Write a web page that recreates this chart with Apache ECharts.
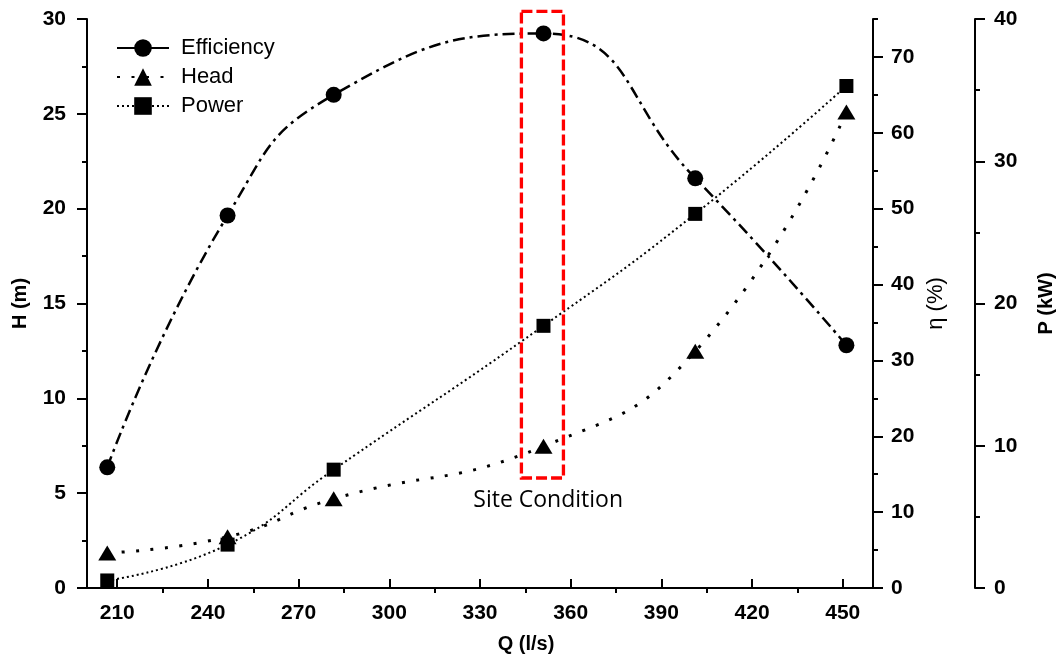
<!DOCTYPE html>
<html>
<head>
<meta charset="utf-8">
<title>Pump performance</title>
<script src="https://cdn.jsdelivr.net/npm/echarts@6/dist/echarts.min.js"></script>
<style>
  html, body { margin: 0; padding: 0; background: #fff; }
  #chart { width: 1064px; height: 659px; }
</style>
</head>
<body>
<div id="chart"></div>
<script>
// Flow rate Q (l/s) at each measured operating point
const flowQ = [206.7, 246.5, 281.6, 351.0, 401.2, 451.2];
// Efficiency η (%)
const efficiency = [15.9, 49.1, 65.0, 73.1, 54.0, 32.0];
// Head H (m)
const head = [1.85, 2.7, 4.7, 7.47, 12.48, 25.1];
// Shaft power P (kW)
const power = [0.53, 3.05, 8.32, 18.43, 26.3, 35.29];

// Axis ticks
const qTicks = [210, 240, 270, 300, 330, 360, 390, 420, 450];
const qMinorTicks = [225, 255, 285, 315, 345, 375, 405, 435];
const etaTicks = [0, 10, 20, 30, 40, 50, 60, 70];
const etaMinorTicks = [5, 15, 25, 35, 45, 55, 65, 75];

// Highlighted operating point (site condition) window, in Q / H units
const siteQRange = [343.7, 357.6];
const siteHRange = [5.8, 30.4];
const siteLabel = 'Site Condition';

const pairs = (ys) => flowQ.map((q, i) => [q, ys[i]]);

const FONT = '"Liberation Sans", Arial, sans-serif';
const AXIS_LINE = { show: true, lineStyle: { color: '#000', width: 2 } };
const tickLabel = { color: '#000', fontFamily: FONT, fontWeight: 'bold', fontSize: 21 };

const chart = echarts.init(document.getElementById('chart'), null, { renderer: 'canvas' });

const option = {
  backgroundColor: '#fff',
  animation: false,
  grid: { left: 87, right: 189, top: 19, bottom: 70.5 },
  legend: {
    orient: 'vertical',
    left: 116,
    top: 37,
    padding: 0,
    itemWidth: 52,
    itemHeight: 22,
    itemGap: 7,
    textStyle: { color: '#000', fontFamily: FONT, fontSize: 22, padding: [0, 0, 0, 7] },
    data: [
      { name: 'Efficiency', lineStyle: { type: 'solid' } },
      { name: 'Head' },
      { name: 'Power' }
    ]
  },
  xAxis: [
    {
      type: 'value', min: 200, max: 460,
      name: 'Q (l/s)', nameLocation: 'middle', nameGap: 46,
      nameTextStyle: { color: '#000', fontFamily: FONT, fontWeight: 'bold', fontSize: 20, padding: [0, 0, 0, 92] },
      axisLine: AXIS_LINE,
      axisTick: { show: true, inside: true, length: 9, lineStyle: { color: '#000', width: 2 }, customValues: qTicks },
      axisLabel: Object.assign({ margin: 15, customValues: qTicks }, tickLabel),
      splitLine: { show: false }
    },
    {
      type: 'value', min: 200, max: 460,
      axisLine: { show: false },
      axisTick: { show: true, inside: true, length: 5, lineStyle: { color: '#000', width: 2 }, customValues: qMinorTicks },
      axisLabel: { show: false },
      splitLine: { show: false }
    }
  ],
  yAxis: [
    {
      type: 'value', position: 'left', min: 0, max: 30, interval: 5,
      name: 'H (m)', nameLocation: 'middle', nameGap: 57,
      nameTextStyle: { color: '#000', fontFamily: FONT, fontWeight: 'bold', fontSize: 20 },
      axisLine: AXIS_LINE,
      axisTick: { show: true, inside: false, length: 10, lineStyle: { color: '#000', width: 2 } },
      minorTick: { show: true, splitNumber: 2, length: 5, lineStyle: { color: '#000', width: 2 } },
      axisLabel: Object.assign({ margin: 21 }, tickLabel),
      splitLine: { show: false }
    },
    {
      type: 'value', position: 'right', offset: 0, min: 0, max: 75,
      name: 'η (%)', nameLocation: 'middle', nameGap: 51,
      nameTextStyle: { color: '#000', fontFamily: FONT, fontSize: 22 },
      axisLine: AXIS_LINE,
      axisTick: { show: true, inside: false, length: 10, lineStyle: { color: '#000', width: 2 }, customValues: etaTicks },
      axisLabel: Object.assign({ margin: 18, customValues: etaTicks }, tickLabel),
      splitLine: { show: false }
    },
    {
      type: 'value', position: 'right', offset: 102, min: 0, max: 40, interval: 10,
      name: 'P (kW)', nameLocation: 'middle', nameGap: 61,
      nameTextStyle: { color: '#000', fontFamily: FONT, fontWeight: 'bold', fontSize: 20 },
      axisLine: AXIS_LINE,
      axisTick: { show: true, inside: false, length: 10, lineStyle: { color: '#000', width: 2 } },
      minorTick: { show: true, splitNumber: 2, length: 5, lineStyle: { color: '#000', width: 2 } },
      axisLabel: Object.assign({ margin: 19 }, tickLabel),
      splitLine: { show: false }
    },
    {
      type: 'value', position: 'right', offset: 0, min: 0, max: 75,
      axisLine: { show: false },
      axisTick: { show: true, inside: false, length: 5, lineStyle: { color: '#000', width: 2 }, customValues: etaMinorTicks },
      axisLabel: { show: false },
      splitLine: { show: false }
    }
  ],
  series: [
    {
      name: 'Efficiency', type: 'line', yAxisIndex: 1, smooth: 0.5,
      data: pairs(efficiency),
      symbol: 'circle', symbolSize: 16,
      itemStyle: { color: '#000' },
      lineStyle: { color: '#000', width: 2.5, type: [12, 5, 3, 5] }
    },
    {
      name: 'Head', type: 'line', yAxisIndex: 0, smooth: 0.5,
      data: pairs(head),
      symbol: 'triangle', symbolSize: [18, 15],
      itemStyle: { color: '#000' },
      lineStyle: { color: '#000', width: 3, type: [3, 11.5] }
    },
    {
      name: 'Power', type: 'line', yAxisIndex: 2, smooth: 0.5,
      data: pairs(power),
      symbol: 'rect', symbolSize: 14,
      itemStyle: { color: '#000' },
      lineStyle: { color: '#000', width: 2, type: [2, 3] }
    }
  ]
};

chart.setOption(option);

// Dashed frame around the site operating point, placed through the H/Q scales
const ref = { xAxisIndex: 0, yAxisIndex: 0 };
const topLeft = chart.convertToPixel(ref, [siteQRange[0], siteHRange[1]]);
const bottomRight = chart.convertToPixel(ref, [siteQRange[1], siteHRange[0]]);
const labelPos = chart.convertToPixel(ref, [(siteQRange[0] + siteQRange[1]) / 2 + 1.9, 4.6]);

chart.setOption({
  graphic: [
    {
      type: 'rect', z: 100,
      shape: {
        x: topLeft[0], y: topLeft[1],
        width: bottomRight[0] - topLeft[0], height: bottomRight[1] - topLeft[1]
      },
      style: { fill: 'none', stroke: '#ff0000', lineWidth: 3.3, lineDash: [11, 4] }
    },
    {
      type: 'text', z: 100,
      x: labelPos[0], y: labelPos[1],
      style: {
        text: siteLabel, fill: '#000', font: '23px "Open Sans", "Noto Sans", sans-serif',
        textAlign: 'center', textVerticalAlign: 'middle'
      }
    }
  ]
});
</script>
</body>
</html>
